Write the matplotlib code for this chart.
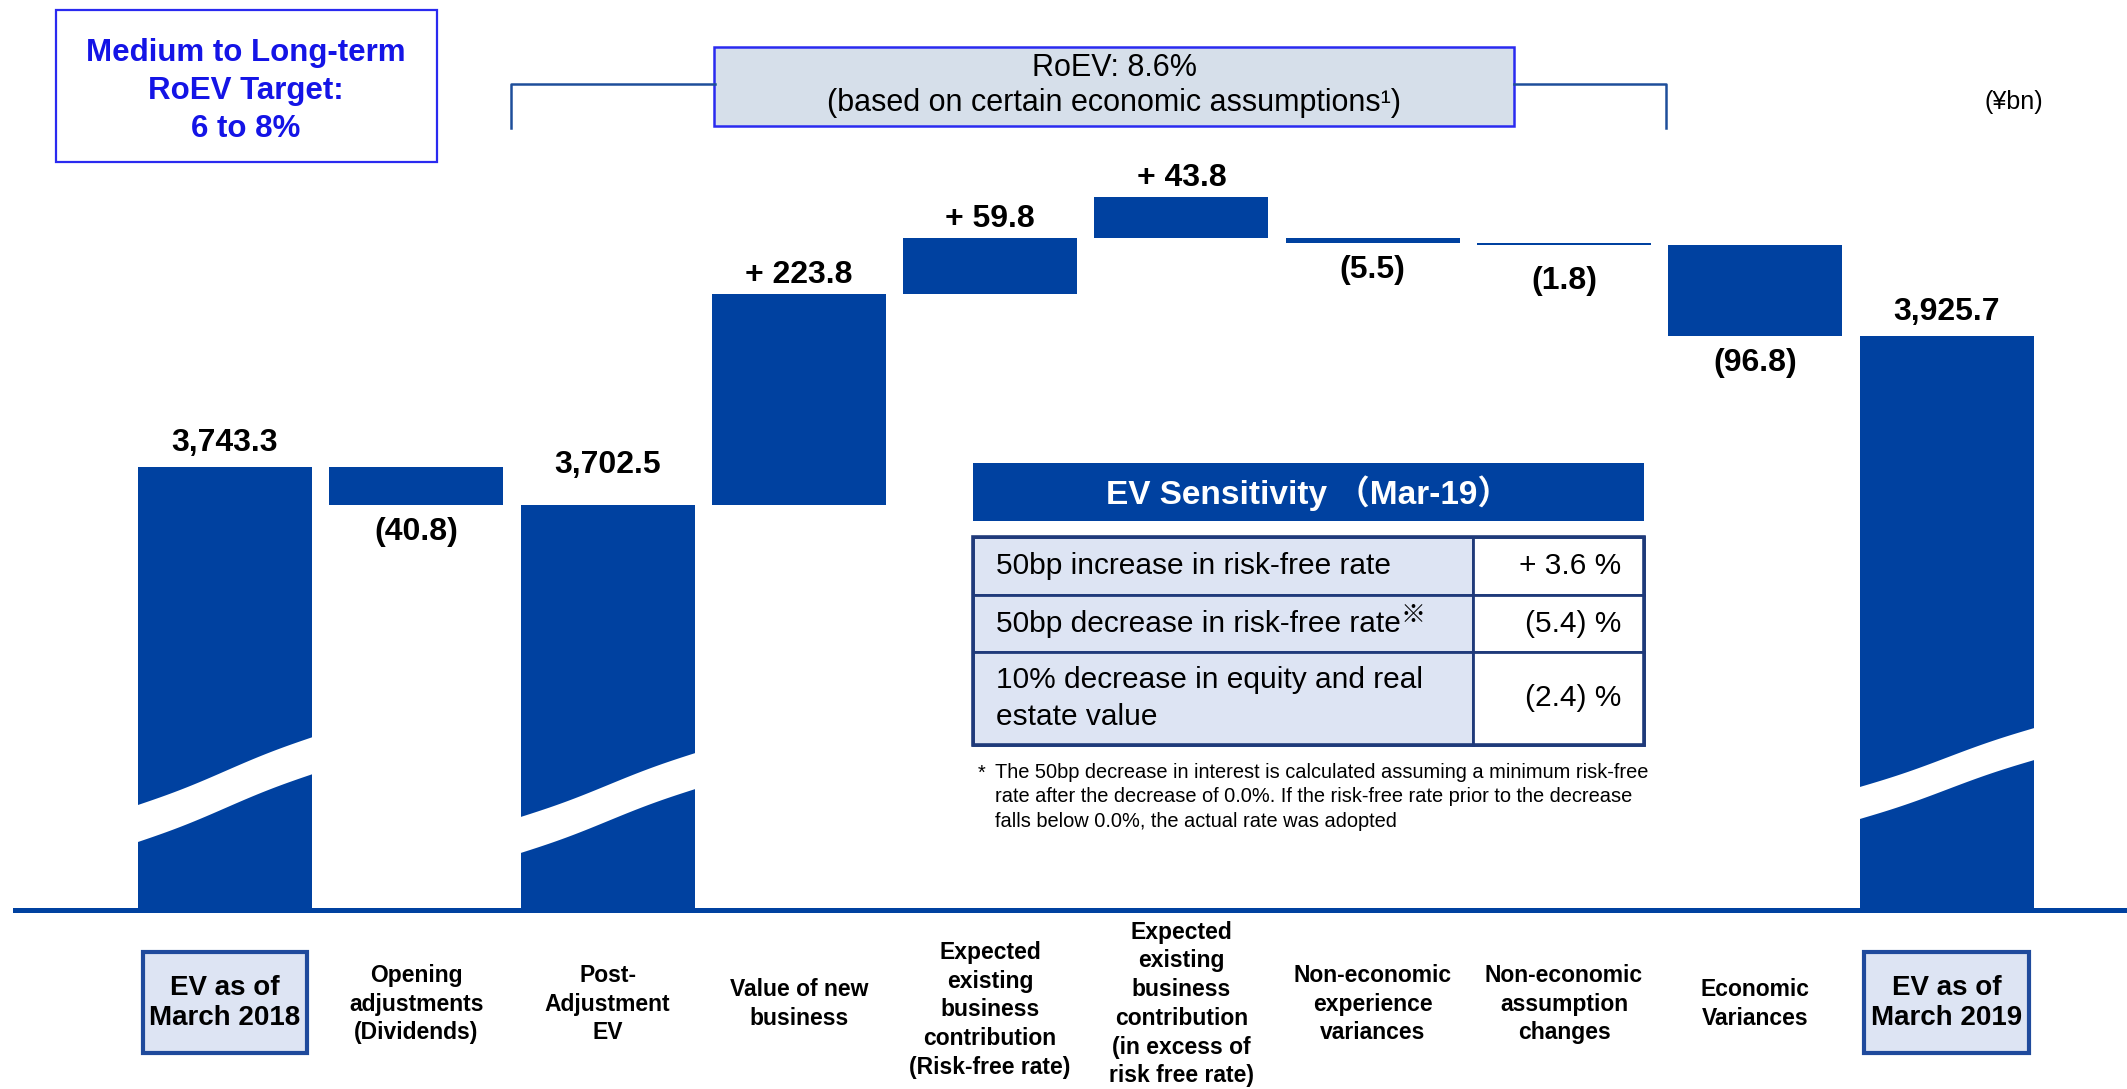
import matplotlib
matplotlib.use("Agg")
import matplotlib.pyplot as plt
import numpy as np
from matplotlib.lines import Line2D
from matplotlib.patches import Rectangle
from matplotlib.transforms import blended_transform_factory

# ---- data (¥bn) ----
categories = [
    "EV as of\nMarch 2018",
    "Opening\nadjustments\n(Dividends)",
    "Post-\nAdjustment\nEV",
    "Value of new\nbusiness",
    "Expected\nexisting\nbusiness\ncontribution\n(Risk-free rate)",
    "Expected\nexisting\nbusiness\ncontribution\n(in excess of\nrisk free rate)",
    "Non-economic\nexperience\nvariances",
    "Non-economic\nassumption\nchanges",
    "Economic\nVariances",
    "EV as of\nMarch 2019",
]
values = [3743.3, -40.8, 3702.5, 223.8, 59.8, 43.8, -5.5, -1.8, -96.8, 3925.7]
is_total = [True, False, True, False, False, False, False, False, False, True]
# the reference stacks the "in excess" bar on top but does not carry it forward
carried = [True, True, True, True, True, False, True, True, True, True]

roev_text = "RoEV: 8.6%"
roev_note = "(based on certain economic assumptions\u00b9)"
target_text = "Medium to Long-term\nRoEV Target:\n6 to 8%"

sens_items = [
    "50bp increase in risk-free rate",
    "50bp decrease in risk-free rate",
    "10% decrease in equity and real\nestate value",
]
sens_values = ["+ 3.6 %", "(5.4) %", "(2.4) %"]
sens_footnote = (
    "The 50bp decrease in interest is calculated assuming a minimum risk-free\n"
    "rate after the decrease of 0.0%. If the risk-free rate prior to the decrease\n"
    "falls below 0.0%, the actual rate was adopted"
)

# ---- layout ----
W, H = 2127, 1089
BLUE = "#0041A0"
NAVY = "#1F3A7A"
LIGHT = "#DDE4F3"
FONT = "Liberation Sans"
plt.rcParams["font.family"] = [FONT, "Noto Sans CJK JP", "DejaVu Sans"]

XLIM = (-1.176, 9.943)
YLIM = (3082.2, 4238.9)
BAR_W = 0.91


def fx(px):
    return px / W


def fy(py):
    return 1 - py / H


def yval(py):
    # pixel row -> value on the (broken) y scale
    return YLIM[1] - py * (YLIM[1] - YLIM[0]) / H


fig = plt.figure(figsize=(W / 100, H / 100), dpi=100)
ax = fig.add_axes([0, 0, 1, 1])
ax.set_xlim(*XLIM)
ax.set_ylim(*YLIM)
ax.axis("off")
bt = blended_transform_factory(ax.transData, ax.transAxes)

base = yval(910)

# ---- waterfall ----
level = None
tops, bottoms = [], []
for i, v in enumerate(values):
    if is_total[i]:
        if level is None:
            level = v
        lo, hi = base, level
    else:
        lo, hi = sorted((level, level + v))
        if carried[i]:
            level += v
    bottoms.append(lo)
    tops.append(hi)
    ax.bar(i, hi - lo, bottom=lo, width=BAR_W, color=BLUE, lw=0, zorder=2)

# value labels
nudge = {2: 16, 7: 9}
for i, v in enumerate(values):
    if is_total[i]:
        txt, y, off = f"{v:,.1f}", tops[i], 24
    elif v >= 0:
        txt, y, off = f"+ {v:.1f}", tops[i], 19
    else:
        txt, y, off = f"({-v:.1f})", bottoms[i], -27
    off += nudge.get(i, 0) * np.sign(off)
    ax.annotate(txt, (i, y), xytext=(0, off * 0.72), textcoords="offset points",
                ha="center", va="center", fontsize=23, fontweight="bold",
                color="black", zorder=5)

# broken-axis white bands on the total bars (left px row, right px row, width)
breaks = {0: (805, 736, 37), 2: (817, 752, 36), 9: (787, 727, 32)}
for i, (yl, yr, th) in breaks.items():
    x = np.linspace(i - BAR_W / 2 - 0.01, i + BAR_W / 2 + 0.01, 80)
    t = (x - x[0]) / (x[-1] - x[0])
    edge = yl + (yr - yl) * (t - 0.02 * np.sin(2 * np.pi * t))
    ax.fill_between(x, yval(edge), yval(edge + th), color="white", lw=0, zorder=3)

ax.axhline(base, xmin=fx(15), xmax=1, color=BLUE, lw=3.6, zorder=4)

# category labels
for i, lab in enumerate(categories):
    n = lab.count("\n") + 1
    if is_total[i] and i != 2:
        ax.add_patch(Rectangle((i - 0.43, fy(1053)), 0.86, (1053 - 952) / H,
                               transform=bt, facecolor=LIGHT, edgecolor="#1F4A9C",
                               lw=3, zorder=4))
        ax.text(i, fy(1003), lab, transform=bt, ha="center", va="center",
                fontsize=20, fontweight="bold", linespacing=1.2, zorder=5)
    else:
        yc = {5: 1010, 6: 1004}.get(n, 1004)
        ax.text(i, fy(yc), lab, transform=bt, ha="center", va="center",
                fontsize=16.5, fontweight="bold", linespacing=1.32, zorder=5)

# ---- target box ----
fig.patches.append(Rectangle((fx(56), fy(162)), fx(437 - 56), (162 - 10) / H,
                             transform=fig.transFigure, facecolor="white",
                             edgecolor="#2A2AF0", lw=1.6))
fig.text(fx(246), fy(91), target_text, ha="center", va="center", fontsize=22.5,
         fontweight="bold", color="#1414E6", linespacing=1.33)

# ---- RoEV bracket + box ----
for xs, ys in (([511, 511, 715], [128, 84, 84]), ([1514, 1666, 1666], [84, 84, 128])):
    fig.lines.append(Line2D([fx(x) for x in xs], [fy(y) for y in ys],
                            transform=fig.transFigure, color="#1E4E9A", lw=1.8))
fig.patches.append(Rectangle((fx(714), fy(126)), fx(1514 - 714), (126 - 47) / H,
                             transform=fig.transFigure, facecolor="#D6DFEA",
                             edgecolor="#2A2AF0", lw=1.8))
fig.text(fx(1114), fy(68), roev_text, ha="center", va="center", fontsize=22)
fig.text(fx(1114), fy(103), roev_note, ha="center", va="center", fontsize=22)
fig.text(fx(2014), fy(102), "(\u00a5bn)", ha="center", va="center", fontsize=18)

# ---- EV sensitivity table ----
tx0, tx1, tdiv = 973, 1644, 1473
fig.patches.append(Rectangle((fx(tx0), fy(521)), fx(tx1 - tx0), (521 - 463) / H,
                             transform=fig.transFigure, facecolor=BLUE, lw=0))
fig.text(fx((tx0 + tx1) / 2), fy(493), "EV Sensitivity \uff08Mar-19\uff09",
         ha="center", va="center", fontsize=24, fontweight="bold", color="white")

rows = [537, 595, 652, 745]
for r in range(3):
    ya, yb = rows[r], rows[r + 1]
    fig.patches.append(Rectangle((fx(tx0), fy(yb)), fx(tdiv - tx0), (yb - ya) / H,
                                 transform=fig.transFigure, facecolor=LIGHT,
                                 edgecolor=NAVY, lw=2))
    fig.patches.append(Rectangle((fx(tdiv), fy(yb)), fx(tx1 - tdiv), (yb - ya) / H,
                                 transform=fig.transFigure, facecolor="white",
                                 edgecolor=NAVY, lw=2))
    yc = (ya + yb) / 2
    t = fig.text(fx(996), fy(yc), sens_items[r], ha="left", va="center",
                 fontsize=21.5, linespacing=1.38)
    fig.text(fx(1621), fy(yc), sens_values[r], ha="right", va="center", fontsize=21.5)
    if r == 1:
        fig.canvas.draw()
        bb = t.get_window_extent(fig.canvas.get_renderer())
        fig.text(bb.x1 / W, fy(yc - 8), "\u203b", ha="left", va="center",
                 fontsize=18, family="Noto Sans CJK JP")
fig.patches.append(Rectangle((fx(tx0), fy(745)), fx(tx1 - tx0), (745 - 537) / H,
                             transform=fig.transFigure, facecolor="none",
                             edgecolor=NAVY, lw=2.6))

fig.text(fx(978), fy(773), "*", ha="left", va="center", fontsize=14.4)
fig.text(fx(995), fy(797), sens_footnote, ha="left", va="center", fontsize=14.4,
         linespacing=1.38)

fig.savefig("out.png", dpi=100)
